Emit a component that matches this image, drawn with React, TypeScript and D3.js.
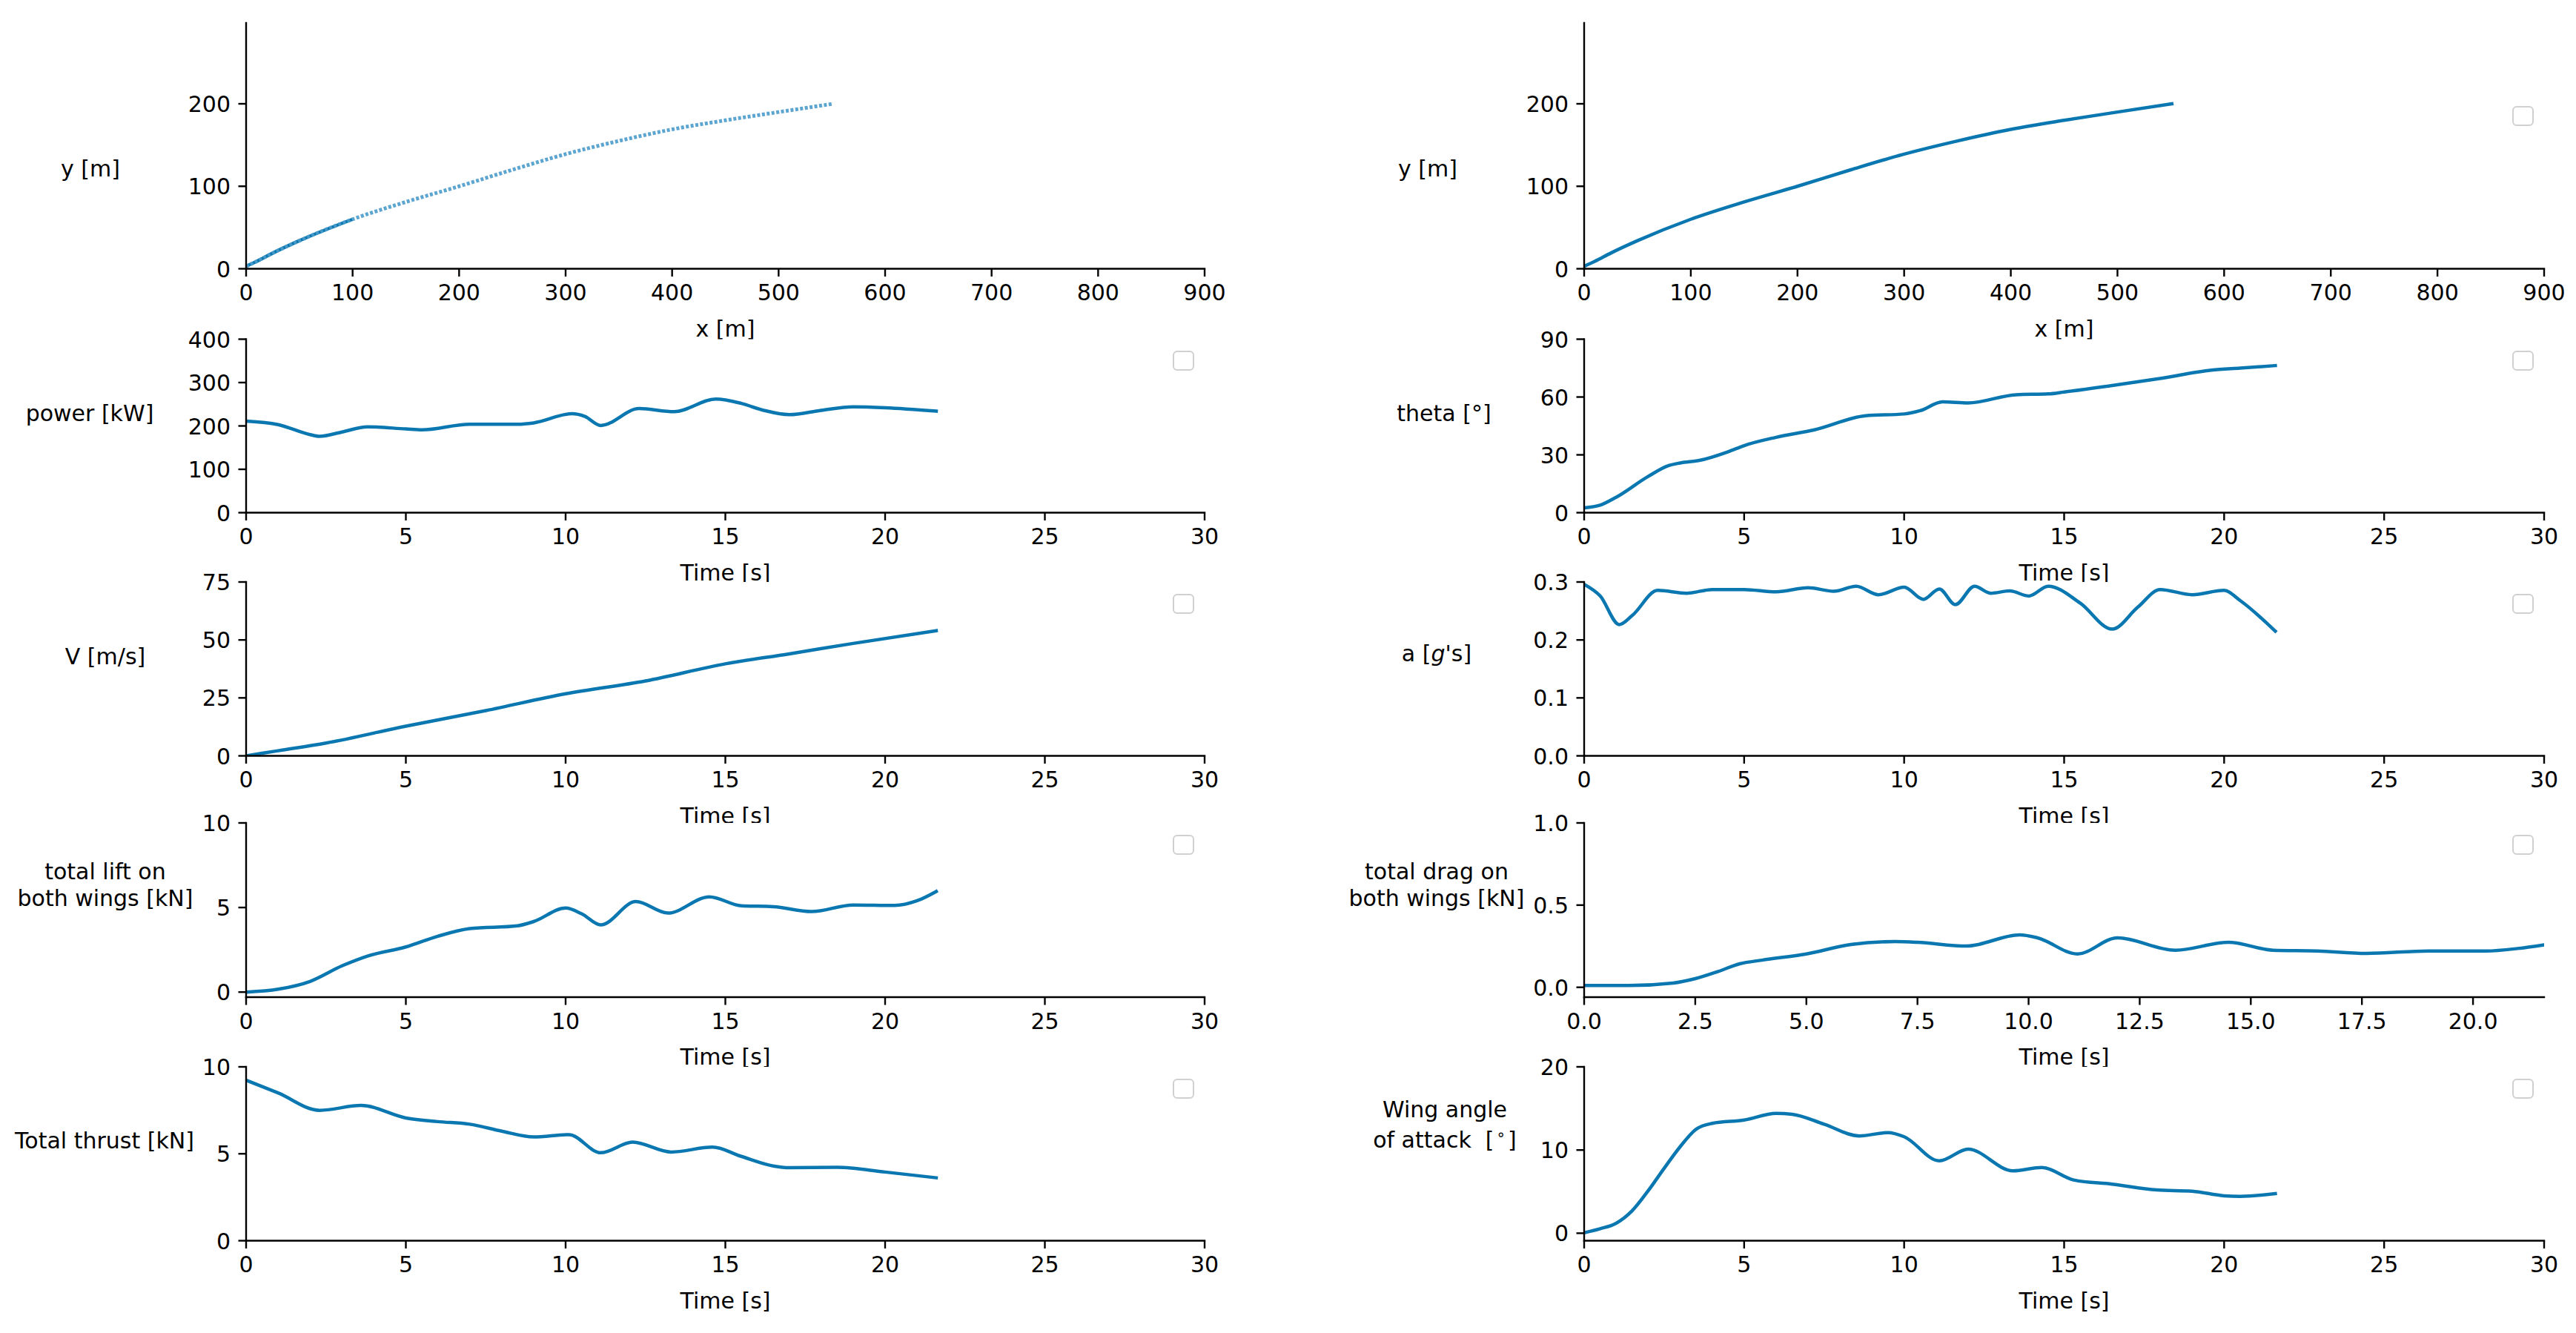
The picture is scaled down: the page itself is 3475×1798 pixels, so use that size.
import * as d3 from 'd3';
import React from 'react';

const W = 3475, H = 1798;
const BLUE = '#0a77b0';
const FONT = '"DejaVu Sans", sans-serif';
const FS = 30;

// trajectory y vs x [m]
const trajX = [0, 10, 25, 50, 100, 150, 200, 250, 300, 350, 400, 450, 500, 551];
const trajY = [3, 9, 19, 34, 60, 81, 100, 120, 139, 155, 169, 180, 190, 200];

// power [kW]
const tPower = [0, 1, 2, 2.3, 3, 3.8, 5, 5.5, 7, 8.5, 9, 10.2, 10.6, 11.1, 12.3, 13.4, 14.7, 15.5, 16.2, 17, 18, 19, 20, 21.6];
const power = [211, 203, 180, 176, 186, 198, 193, 191, 204, 204, 207, 228, 222, 201, 240, 233, 262, 252, 236, 226, 236, 244, 242, 234];

// theta [deg]
const tTheta = [0, 0.5, 1, 2, 2.6, 3, 3.6, 4.5, 5, 6, 7.2, 8.8, 10, 10.5, 11.2, 12, 13.5, 14.5, 15, 16.5, 18, 19.6, 20.5, 21.6];
const theta = [2.5, 3.9, 8, 18.8, 24.2, 25.8, 27.1, 31.6, 34.8, 39.1, 43, 50.3, 51.2, 52.9, 57.5, 56.9, 61.2, 61.6, 62.6, 66, 69.6, 73.9, 75, 76.3];

// V [m/s]
const tV = [0, 1, 2.5, 5, 7.5, 10, 12.5, 15, 17, 19, 21.6];
const speed = [0, 2.2, 5.5, 12.8, 19.5, 26.8, 32.3, 39.7, 44, 48.5, 54];

// a [g's]
const tAcc = [0, 0.5, 1.1, 1.5, 2.3, 3.2, 4, 5, 6, 7, 7.8, 8.5, 9.2, 10, 10.6, 11.1, 11.6, 12.2, 12.7, 13.3, 13.9, 14.5, 15.5, 16.5, 17.3, 18, 19, 20, 20.5, 21.6];
const acc = [0.296, 0.276, 0.2265, 0.242, 0.2855, 0.2806, 0.287, 0.287, 0.283, 0.29, 0.284, 0.2927, 0.278, 0.291, 0.27, 0.288, 0.261, 0.2927, 0.2806, 0.2845, 0.2758, 0.2927, 0.2637, 0.2187, 0.2564, 0.287, 0.278, 0.2855, 0.268, 0.215];

// total lift [kN]
const tLift = [0, 1, 2, 3, 3.8, 5, 6, 7, 8.5, 9, 10, 10.5, 11.1, 12.2, 13.2, 14.5, 15.5, 16.5, 17.7, 19, 20.3, 21, 21.6];
const lift = [0, 0.17, 0.63, 1.55, 2.13, 2.67, 3.3, 3.75, 3.92, 4.17, 4.97, 4.63, 3.97, 5.35, 4.67, 5.63, 5.1, 5.05, 4.76, 5.15, 5.12, 5.4, 5.95];

// total drag [kN]
const tDrag = [0, 1, 2, 2.5, 3, 3.5, 4, 5, 6, 7, 7.5, 8.6, 9.8, 10.2, 11.1, 12, 13.3, 14.5, 15.5, 16.5, 17.6, 19, 20.3, 21, 21.6];
const drag = [0.0105, 0.0105, 0.0256, 0.0526, 0.0947, 0.143, 0.165, 0.203, 0.26, 0.278, 0.2737, 0.251, 0.319, 0.301, 0.203, 0.301, 0.2256, 0.2737, 0.2256, 0.221, 0.206, 0.221, 0.221, 0.236, 0.2586];

// total thrust [kN]
const tThrust = [0, 1, 2.3, 3.6, 5, 6, 7, 8, 9, 10.1, 11.1, 12.1, 13.3, 14.6, 15.5, 16.5, 17, 18.5, 20, 21.6];
const thrust = [9.23, 8.5, 7.5, 7.78, 7.06, 6.85, 6.7, 6.3, 5.97, 6.1, 5.06, 5.67, 5.1, 5.38, 4.85, 4.3, 4.2, 4.22, 3.95, 3.62];

// wing angle of attack [deg]
const tAoa = [0, 0.5, 1, 1.5, 2, 2.5, 3, 3.5, 4, 5, 6, 6.5, 7.5, 8.6, 9.5, 10, 11.1, 12, 13.4, 14.3, 15.3, 16.5, 17.9, 19, 20, 20.5, 21.6];
const aoa = [0.06, 0.54, 1.2, 2.7, 5.1, 7.8, 10.4, 12.5, 13.2, 13.6, 14.4, 14.3, 13.1, 11.7, 12.1, 11.6, 8.7, 10.1, 7.5, 7.9, 6.4, 5.9, 5.2, 5.05, 4.5, 4.43, 4.76];

const ticksX900 = [0, 100, 200, 300, 400, 500, 600, 700, 800, 900];
const ticksT30 = [0, 5, 10, 15, 20, 25, 30];
const ticksTDrag = [0, 2.5, 5, 7.5, 10, 12.5, 15, 17.5, 20];

const COLS = [[332, 1625], [2137, 3432]];
const ROWS = [[31, 362.5], [457.5, 691.5], [785, 1019.5], [1110, 1345], [1439, 1673.5]];

interface PanelProps {
  id: string;
  col: number;
  row: number;
  xs: number[];
  ys: number[];
  xDomain: [number, number];
  yDomain: [number, number];
  xTicks: number[];
  yTicks: number[];
  xFmt?: (v: number) => string;
  yFmt?: (v: number) => string;
  xLabel: string;
  yLabel: React.ReactNode[];
  yLabelX: number;
  yLabelY: number[];
  legendTop?: number;
  dotted?: boolean;
}

const Panel: React.FC<PanelProps> = (p) => {
  const [left, right] = COLS[p.col];
  const [top, bottom] = ROWS[p.row];
  const x = d3.scaleLinear().domain(p.xDomain).range([left, right]);
  const y = d3.scaleLinear().domain(p.yDomain).range([bottom, top]);
  const pts = p.xs.map((v, i) => [v, p.ys[i]] as [number, number]);
  const line = d3.line<[number, number]>().x(d => x(d[0])).y(d => y(d[1])).curve(d3.curveMonotoneX);
  const xf = p.xFmt ?? ((v: number) => String(v));
  const yf = p.yFmt ?? ((v: number) => String(v));
  const tick = 10.5;
  return (
    <g>
      <rect x={left} y={top} width={right - left} height={bottom - top} fill="#fff" />
      <defs>
        <clipPath id={`clip-${p.id}`}>
          <rect x={left} y={top} width={right - left} height={bottom - top} />
        </clipPath>
      </defs>
      <g clipPath={`url(#clip-${p.id})`}>
        {p.dotted ? (
          <>
            <path d={line(pts.filter(d => d[0] <= 100)) ?? undefined} fill="none" stroke={BLUE} strokeWidth={4.5} />
            <path d={line(pts) ?? undefined} fill="none" stroke="#4a9bcb" strokeWidth={5} strokeDasharray="4 2.5" opacity={0.9} />
          </>
        ) : (
          <path d={line(pts) ?? undefined} fill="none" stroke={BLUE} strokeWidth={4.5} strokeLinejoin="round" strokeLinecap="square" />
        )}
      </g>
      <line x1={left} x2={left} y1={top} y2={bottom} stroke="#000" strokeWidth={2.4} strokeLinecap="square" />
      <line x1={left} x2={right} y1={bottom} y2={bottom} stroke="#000" strokeWidth={2.4} strokeLinecap="square" />
      {p.xTicks.map(t => (
        <g key={`x${t}`}>
          <line x1={x(t)} x2={x(t)} y1={bottom} y2={bottom + tick} stroke="#000" strokeWidth={2.4} />
          <text x={x(t)} y={bottom + 42.5} textAnchor="middle" fontSize={FS} fontFamily={FONT} fill="#000">{xf(t)}</text>
        </g>
      ))}
      {p.yTicks.map(t => (
        <g key={`y${t}`}>
          <line x1={left - tick} x2={left} y1={y(t)} y2={y(t)} stroke="#000" strokeWidth={2.4} />
          <text x={left - 21} y={y(t) + 11} textAnchor="end" fontSize={FS} fontFamily={FONT} fill="#000">{yf(t)}</text>
        </g>
      ))}
      <text x={(left + right) / 2} y={bottom + 91} textAnchor="middle" fontSize={FS} fontFamily={FONT} fill="#000">{p.xLabel}</text>
      {p.yLabel.map((l, i) => (
        <text key={i} x={p.yLabelX} y={p.yLabelY[i]} textAnchor="middle" fontSize={FS} fontFamily={FONT} fill="#000" style={{ whiteSpace: 'pre' }}>{l}</text>
      ))}
      {p.legendTop !== undefined && (
        <rect x={right - 42} y={p.legendTop} width={27} height={25} rx={5} fill="#fff" stroke="#d0d0d0" strokeWidth={2} />
      )}
    </g>
  );
};

const f1 = (v: number) => v.toFixed(1);

export default function App() {
  return (
    <svg width={W} height={H} viewBox={`0 0 ${W} ${H}`} style={{ position: 'absolute', left: 0, top: 0, background: '#fff' }}>
      <rect width={W} height={H} fill="#fff" />
      {/* row 1 */}
      <Panel id="traj1" col={0} row={0} xs={trajX} ys={trajY} xDomain={[0, 900]} yDomain={[0, 298]}
        xTicks={ticksX900} yTicks={[0, 100, 200]} xLabel="x [m]" yLabel={['y [m]']} yLabelX={122} yLabelY={[238]} dotted />
      <Panel id="traj2" col={1} row={0} xs={trajX} ys={trajY} xDomain={[0, 900]} yDomain={[0, 298]}
        xTicks={ticksX900} yTicks={[0, 100, 200]} xLabel="x [m]" yLabel={['y [m]']} yLabelX={1926} yLabelY={[238]} legendTop={144} />
      {/* row 2 */}
      <Panel id="power" col={0} row={1} xs={tPower} ys={power} xDomain={[0, 30]} yDomain={[0, 400]}
        xTicks={ticksT30} yTicks={[0, 100, 200, 300, 400]} xLabel="Time [s]" yLabel={['power [kW]']} yLabelX={121} yLabelY={[567.5]} legendTop={474} />
      <Panel id="theta" col={1} row={1} xs={tTheta} ys={theta} xDomain={[0, 30]} yDomain={[0, 90]}
        xTicks={ticksT30} yTicks={[0, 30, 60, 90]} xLabel="Time [s]" yLabel={['theta [°]']} yLabelX={1948} yLabelY={[567.5]} legendTop={474} />
      {/* row 3 */}
      <Panel id="speed" col={0} row={2} xs={tV} ys={speed} xDomain={[0, 30]} yDomain={[0, 75]}
        xTicks={ticksT30} yTicks={[0, 25, 50, 75]} xLabel="Time [s]" yLabel={['V [m/s]']} yLabelX={142} yLabelY={[896]} legendTop={802} />
      <Panel id="acc" col={1} row={2} xs={tAcc} ys={acc} xDomain={[0, 30]} yDomain={[0, 0.3]}
        xTicks={ticksT30} yTicks={[0, 0.1, 0.2, 0.3]} yFmt={f1} xLabel="Time [s]"
        yLabel={[<>a [<tspan fontStyle="italic">g</tspan>'s]</>]} yLabelX={1938} yLabelY={[892]} legendTop={802} />
      {/* row 4 */}
      <Panel id="lift" col={0} row={3} xs={tLift} ys={lift} xDomain={[0, 30]} yDomain={[-0.3, 10]}
        xTicks={ticksT30} yTicks={[0, 5, 10]} xLabel="Time [s]" yLabel={['total lift on', 'both wings [kN]']} yLabelX={142} yLabelY={[1185.5, 1221.5]} legendTop={1127} />
      <Panel id="drag" col={1} row={3} xs={tDrag} ys={drag} xDomain={[0, 21.6]} yDomain={[-0.06, 1.0]}
        xTicks={ticksTDrag} xFmt={f1} yTicks={[0, 0.5, 1.0]} yFmt={f1} xLabel="Time [s]" yLabel={['total drag on', 'both wings [kN]']} yLabelX={1938} yLabelY={[1185.5, 1221.5]} legendTop={1127} />
      {/* row 5 */}
      <Panel id="thrust" col={0} row={4} xs={tThrust} ys={thrust} xDomain={[0, 30]} yDomain={[0, 10]}
        xTicks={ticksT30} yTicks={[0, 5, 10]} xLabel="Time [s]" yLabel={['Total thrust [kN]']} yLabelX={141} yLabelY={[1549]} legendTop={1456} />
      <Panel id="aoa" col={1} row={4} xs={tAoa} ys={aoa} xDomain={[0, 30]} yDomain={[-0.9, 20]}
        xTicks={ticksT30} yTicks={[0, 10, 20]} xLabel="Time [s]"
        yLabel={['Wing angle', <>of attack  [<tspan fontSize={20} dy={-11} dx={3}>∘</tspan><tspan dy={11} dx={3}>]</tspan></>]}
        yLabelX={1949} yLabelY={[1507, 1548]} legendTop={1456} />
    </svg>
  );
}
